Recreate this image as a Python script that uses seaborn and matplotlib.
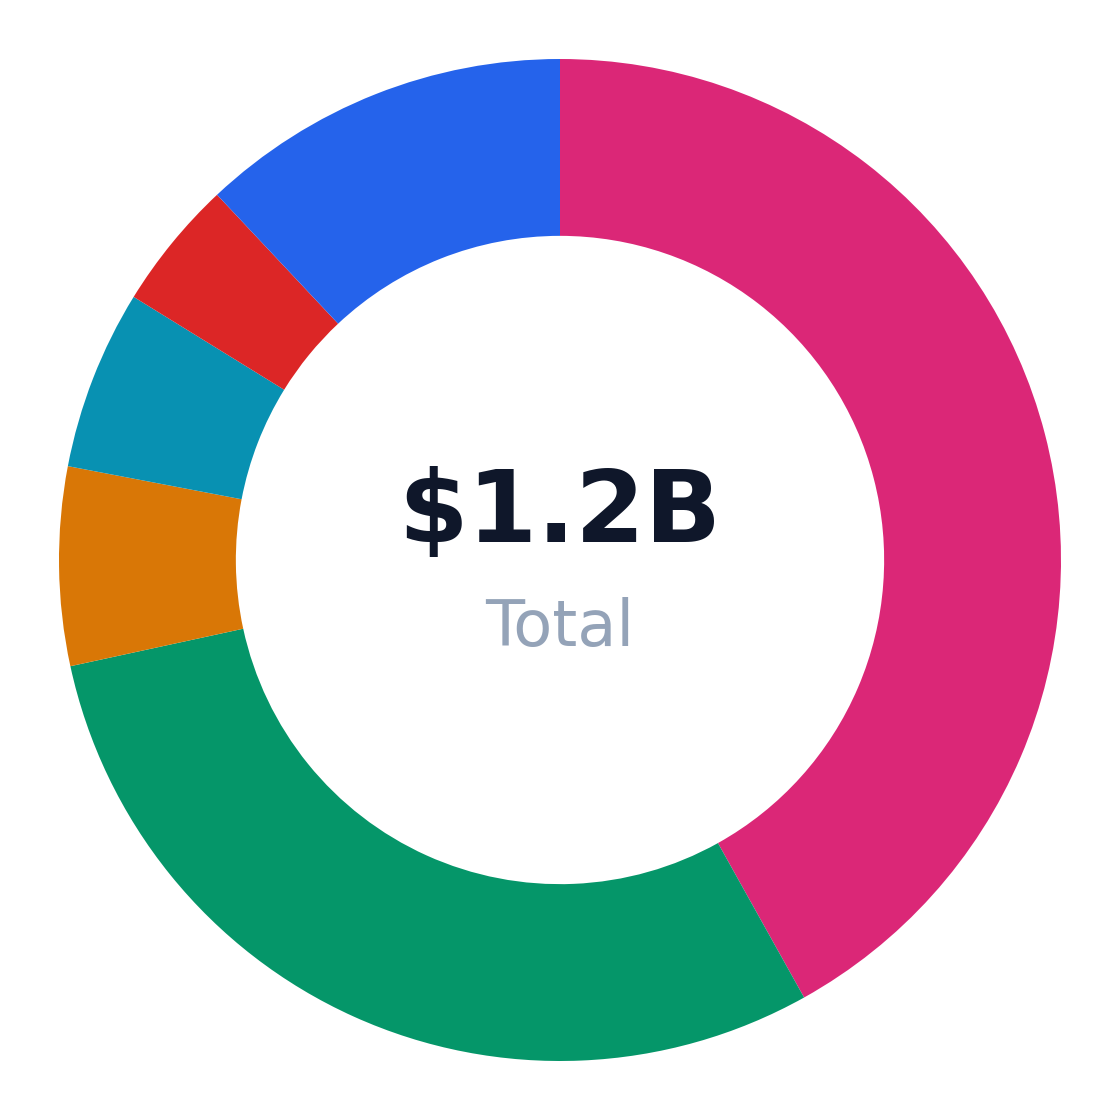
import matplotlib
matplotlib.use("Agg")
import matplotlib.pyplot as plt
import seaborn as sns

# Data (shares, %), clockwise from 12 o'clock
categories = ["Pink", "Green", "Orange", "Teal", "Red", "Blue"]
values = [41.9, 29.7, 6.4, 5.8, 4.2, 12.0]
colors = ["#DB2777", "#059669", "#D97706", "#0891B2", "#DC2626", "#2563EB"]
center_value = "$1.2B"
center_label = "Total"

sns.set_theme(style="white")
plt.rcParams["font.family"] = ["DejaVu Sans"]

fig = plt.figure(figsize=(11.2, 11.2), dpi=100)
ax = fig.add_axes([0, 0, 1, 1])
palette = sns.color_palette(colors)

ax.pie(values, colors=palette, startangle=90, counterclock=False,
       radius=1.0, wedgeprops=dict(width=0.353, edgecolor="none", linewidth=0))

lim = 560 / 501
ax.set_xlim(-lim, lim)
ax.set_ylim(-lim, lim)
ax.set_aspect("equal")
ax.axis("off")

ax.text(0, 0.036, center_value, ha="center", va="baseline", fontsize=72,
        fontweight="bold", color="#0F172A")
ax.text(0, -0.172, center_label, ha="center", va="baseline", fontsize=46,
        color="#94A3B8")

fig.savefig("out.png", dpi=100, facecolor="white")
